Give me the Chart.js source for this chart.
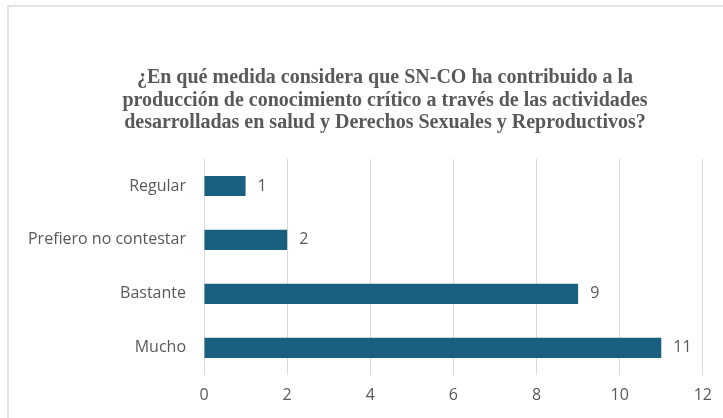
<!DOCTYPE html>
<html>
<head>
<meta charset="utf-8">
<script src="https://cdn.jsdelivr.net/npm/chart.js@4/dist/chart.umd.min.js"></script>
<style>
    html, body { margin: 0; padding: 0; background: #fff; overflow: hidden; }
    #wrap { position: relative; width: 723px; height: 418px; }
    #frame { position: absolute; left: 7px; top: 5px; width: 800px; height: 500px; border: 2px solid #e3e3e3; box-sizing: border-box; }
    canvas { position: absolute; left: 0; top: 0; }
</style>
</head>
<body>
<div id="wrap">
    <div id="frame"></div>
    <canvas id="chart" width="723" height="418"></canvas>
</div>
<script>
const titleLines = [
    '¿En qué medida considera que SN-CO ha contribuido a la',
    'producción de conocimiento crítico a través de las actividades',
    'desarrolladas en salud y Derechos Sexuales y Reproductivos?'
];
const categories = ['Regular', 'Prefiero no contestar', 'Bastante', 'Mucho'];
const values = [1, 2, 9, 11];
const xTicks = [0, 2, 4, 6, 8, 10, 12];

const textColor = '#595959';
const barColor = '#185f80';
const labelFont = '"Open Sans"';

// title is drawn here so it can sit off-centre like the original
const titleBlock = {
    id: 'titleBlock',
    afterDraw(chart) {
        const ctx = chart.ctx;
        ctx.save();
        ctx.font = 'bold 20px "Liberation Serif", "Times New Roman", serif';
        ctx.fillStyle = textColor;
        ctx.textAlign = 'center';
        ctx.textBaseline = 'alphabetic';
        titleLines.forEach((line, i) => {
            ctx.fillText(line, 385, 83 + i * 22.5);
        });
        ctx.restore();
    }
};

// value next to the end of each bar
const valueLabels = {
    id: 'valueLabels',
    afterDatasetsDraw(chart) {
        const ctx = chart.ctx;
        const meta = chart.getDatasetMeta(0);
        ctx.save();
        ctx.font = '16px ' + labelFont;
        ctx.fillStyle = textColor;
        ctx.textAlign = 'left';
        ctx.textBaseline = 'middle';
        meta.data.forEach((bar, i) => {
            ctx.fillText(String(values[i]), bar.x + 12, bar.y);
        });
        ctx.restore();
    }
};

new Chart(document.getElementById('chart').getContext('2d'), {
    type: 'bar',
    data: {
        labels: categories,
        datasets: [{
            data: values,
            backgroundColor: barColor,
            borderWidth: 0,
            categoryPercentage: 1,
            barPercentage: 0.374
        }]
    },
    options: {
        indexAxis: 'y',
        responsive: false,
        animation: false,
        layout: { padding: { left: 0, right: 19, top: 159, bottom: 2 } },
        plugins: {
            legend: { display: false },
            tooltip: { enabled: false },
            title: { display: false }
        },
        scales: {
            x: {
                min: 0,
                max: 12,
                afterBuildTicks: (scale) => { scale.ticks = xTicks.map(v => ({ value: v })); },
                grid: { color: '#d9d9d9', drawTicks: false },
                border: { display: false },
                ticks: { color: textColor, font: { family: labelFont, size: 16 }, padding: 11 }
            },
            y: {
                afterFit: (scale) => { scale.width = 204; },
                grid: { display: false, drawTicks: false },
                border: { display: false },
                ticks: { color: textColor, font: { family: labelFont, size: 16 }, padding: 18 }
            }
        }
    },
    plugins: [valueLabels, titleBlock]
});
</script>
</body>
</html>
